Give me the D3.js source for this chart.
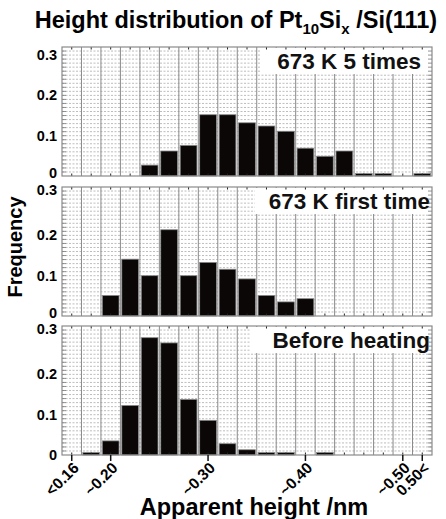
<!DOCTYPE html>
<html>
<head>
<meta charset="utf-8">
<script src="https://cdn.jsdelivr.net/npm/d3@7"></script>
<style>
  body { margin: 0; background: #fff; }
  svg { display: block; font-family: "Liberation Sans", Arial, sans-serif; font-weight: bold; }
</style>
</head>
<body>
<div id="graph"></div>
<script>
// bins: 0 = "<0.16", then 0.02 nm steps, 18 = "0.50<"
const bins = d3.range(19);
const tickBins = [0, 2, 7, 12, 17, 18];
const tickLabels = ["<0.16", "~0.20", "~0.30", "~0.40", "~0.50", "0.50<"];
const panelNames = ["673 K 5 times", "673 K first time", "Before heating"];
const times5 = [0, 0, 0, 0, 0.027, 0.062, 0.076, 0.152, 0.152, 0.132, 0.124, 0.111, 0.069, 0.049, 0.062, 0.006, 0.006, 0, 0.006];
const firstTime = [0, 0, 0.051, 0.141, 0.100, 0.214, 0.100, 0.133, 0.116, 0.092, 0.051, 0.035, 0.043, 0, 0, 0, 0, 0, 0];
const beforeHeating = [0, 0.006, 0.035, 0.123, 0.291, 0.278, 0.138, 0.086, 0.028, 0.013, 0.006, 0.006, 0, 0.006, 0, 0, 0, 0, 0];
const yTicks = [0, 0.1, 0.2, 0.3];

let width = 446, height = 519;
let left = 62, right = 432;
let panelTops = [47, 187, 326];
let panelH = 129;
let series = [times5, firstTime, beforeHeating];

let svg = d3.select("#graph").append("svg").attr("width", width).attr("height", height);

let x = d3.scaleBand().domain(bins).range([left, right]).paddingInner(0.14).paddingOuter(0.07);
let y = d3.scaleLinear().domain([0, 0.32]).range([panelH, 0]);
let step = x.step();

// title
let title = svg.append("text")
  .attr("x", 236).attr("y", 28)
  .attr("text-anchor", "middle")
  .attr("font-size", "23.5px");
title.append("tspan").text("Height distribution of Pt");
title.append("tspan").attr("font-size", "15px").attr("dy", 6).text("10");
title.append("tspan").attr("dy", -6).text("Si");
title.append("tspan").attr("font-size", "15px").attr("dy", 6).text("x");
title.append("tspan").attr("dy", -6).text(" /Si(111)");

series.forEach(function(vals, p) {
  let g = svg.append("g").attr("transform", "translate(0," + panelTops[p] + ")");

  // horizontal dotted grid every 0.01
  g.selectAll(".hgrid")
    .data(d3.range(1, 32).map(d => d / 100))
    .enter().append("line")
    .attr("x1", left).attr("x2", right)
    .attr("y1", d => y(d)).attr("y2", d => y(d))
    .attr("stroke", "#a0a0a0").attr("stroke-width", 0.7)
    .attr("stroke-dasharray", "2,1.5");

  // vertical solid grid at bin edges
  g.selectAll(".vgrid")
    .data(d3.range(1, bins.length))
    .enter().append("line")
    .attr("x1", d => left + d * step).attr("x2", d => left + d * step)
    .attr("y1", 0).attr("y2", panelH)
    .attr("stroke", "#8a8a8a").attr("stroke-width", 1);

  // label box
  let lx = [260, 255, 250][p];
  let lr = [right - 11, right - 2, right - 2][p];
  g.append("rect")
    .attr("x", lx).attr("y", 1)
    .attr("width", right - lx - 1).attr("height", 26)
    .attr("fill", "#fff");
  g.append("text")
    .attr("x", lr).attr("y", 22)
    .attr("text-anchor", "end")
    .attr("font-size", "22.5px")
    .attr("fill", "#111")
    .text(panelNames[p]);

  // bars
  let items = bins.map(b => ({ bin: b, value: vals[b] })).filter(d => d.value > 0);
  g.selectAll(".bar")
    .data(items)
    .enter().append("rect")
    .attr("x", d => x(d.bin))
    .attr("y", d => y(d.value))
    .attr("width", x.bandwidth())
    .attr("height", d => panelH - y(d.value))
    .attr("fill", "#0b0707")
    .attr("stroke", "#8a8a8a")
    .attr("stroke-width", 0.8);

  // left / right minor ticks every 0.01
  let minor = d3.range(1, 32).map(d => d / 100);
  g.selectAll(".lt").data(minor).enter().append("line")
    .attr("x1", left).attr("x2", left + 4)
    .attr("y1", d => y(d)).attr("y2", d => y(d))
    .attr("stroke", "#777").attr("stroke-width", 0.8);
  g.selectAll(".rt").data(minor).enter().append("line")
    .attr("x1", right - 4).attr("x2", right)
    .attr("y1", d => y(d)).attr("y2", d => y(d))
    .attr("stroke", "#777").attr("stroke-width", 0.8);

  // top / bottom ticks at bin centers
  g.selectAll(".tt").data(bins).enter().append("line")
    .attr("x1", d => x(d) + x.bandwidth() / 2).attr("x2", d => x(d) + x.bandwidth() / 2)
    .attr("y1", 0).attr("y2", 2.5)
    .attr("stroke", "#222").attr("stroke-width", 1);
  g.selectAll(".bt").data(bins).enter().append("line")
    .attr("x1", d => x(d) + x.bandwidth() / 2).attr("x2", d => x(d) + x.bandwidth() / 2)
    .attr("y1", panelH - 2.5).attr("y2", panelH)
    .attr("stroke", "#222").attr("stroke-width", 1);

  // frame
  g.append("rect")
    .attr("x", left).attr("y", 0)
    .attr("width", right - left).attr("height", panelH)
    .attr("fill", "none").attr("stroke", "#8a8a8a").attr("stroke-width", 1.2);

  // y tick labels
  g.selectAll(".yl").data(yTicks).enter().append("text")
    .attr("x", left - 5)
    .attr("y", d => y(d) + (d === 0.3 && p > 0 ? -5 : 0) + (d === 0 && p < 2 ? -3 : 0))
    .attr("dy", "0.35em")
    .attr("text-anchor", "end")
    .attr("font-size", "14.5px")
    .text(d => d === 0 ? "0" : d3.format(".1f")(d));
});

// bottom axis ticks and labels
let base = panelTops[2] + panelH;
let xa = svg.append("g");
xa.selectAll(".xt").data(tickBins).enter().append("line")
  .attr("x1", d => x(d) + x.bandwidth() / 2).attr("x2", d => x(d) + x.bandwidth() / 2)
  .attr("y1", base).attr("y2", base + 6)
  .attr("stroke", "#111").attr("stroke-width", 1.5);
xa.selectAll(".xl").data(tickBins).enter().append("text")
  .attr("transform", d => "translate(" + (x(d) + x.bandwidth() / 2 + 8) + "," + (base + 14) + ") rotate(-45)")
  .attr("text-anchor", "end")
  .attr("font-size", "15.5px")
  .text((d, i) => tickLabels[i]);

// axis titles
svg.append("text")
  .attr("transform", "translate(22,247) rotate(-90)")
  .attr("text-anchor", "middle")
  .attr("font-size", "20px")
  .text("Frequency");
svg.append("text")
  .attr("x", 254).attr("y", 515)
  .attr("text-anchor", "middle")
  .attr("font-size", "23.5px")
  .text("Apparent height /nm");
</script>
</body>
</html>
